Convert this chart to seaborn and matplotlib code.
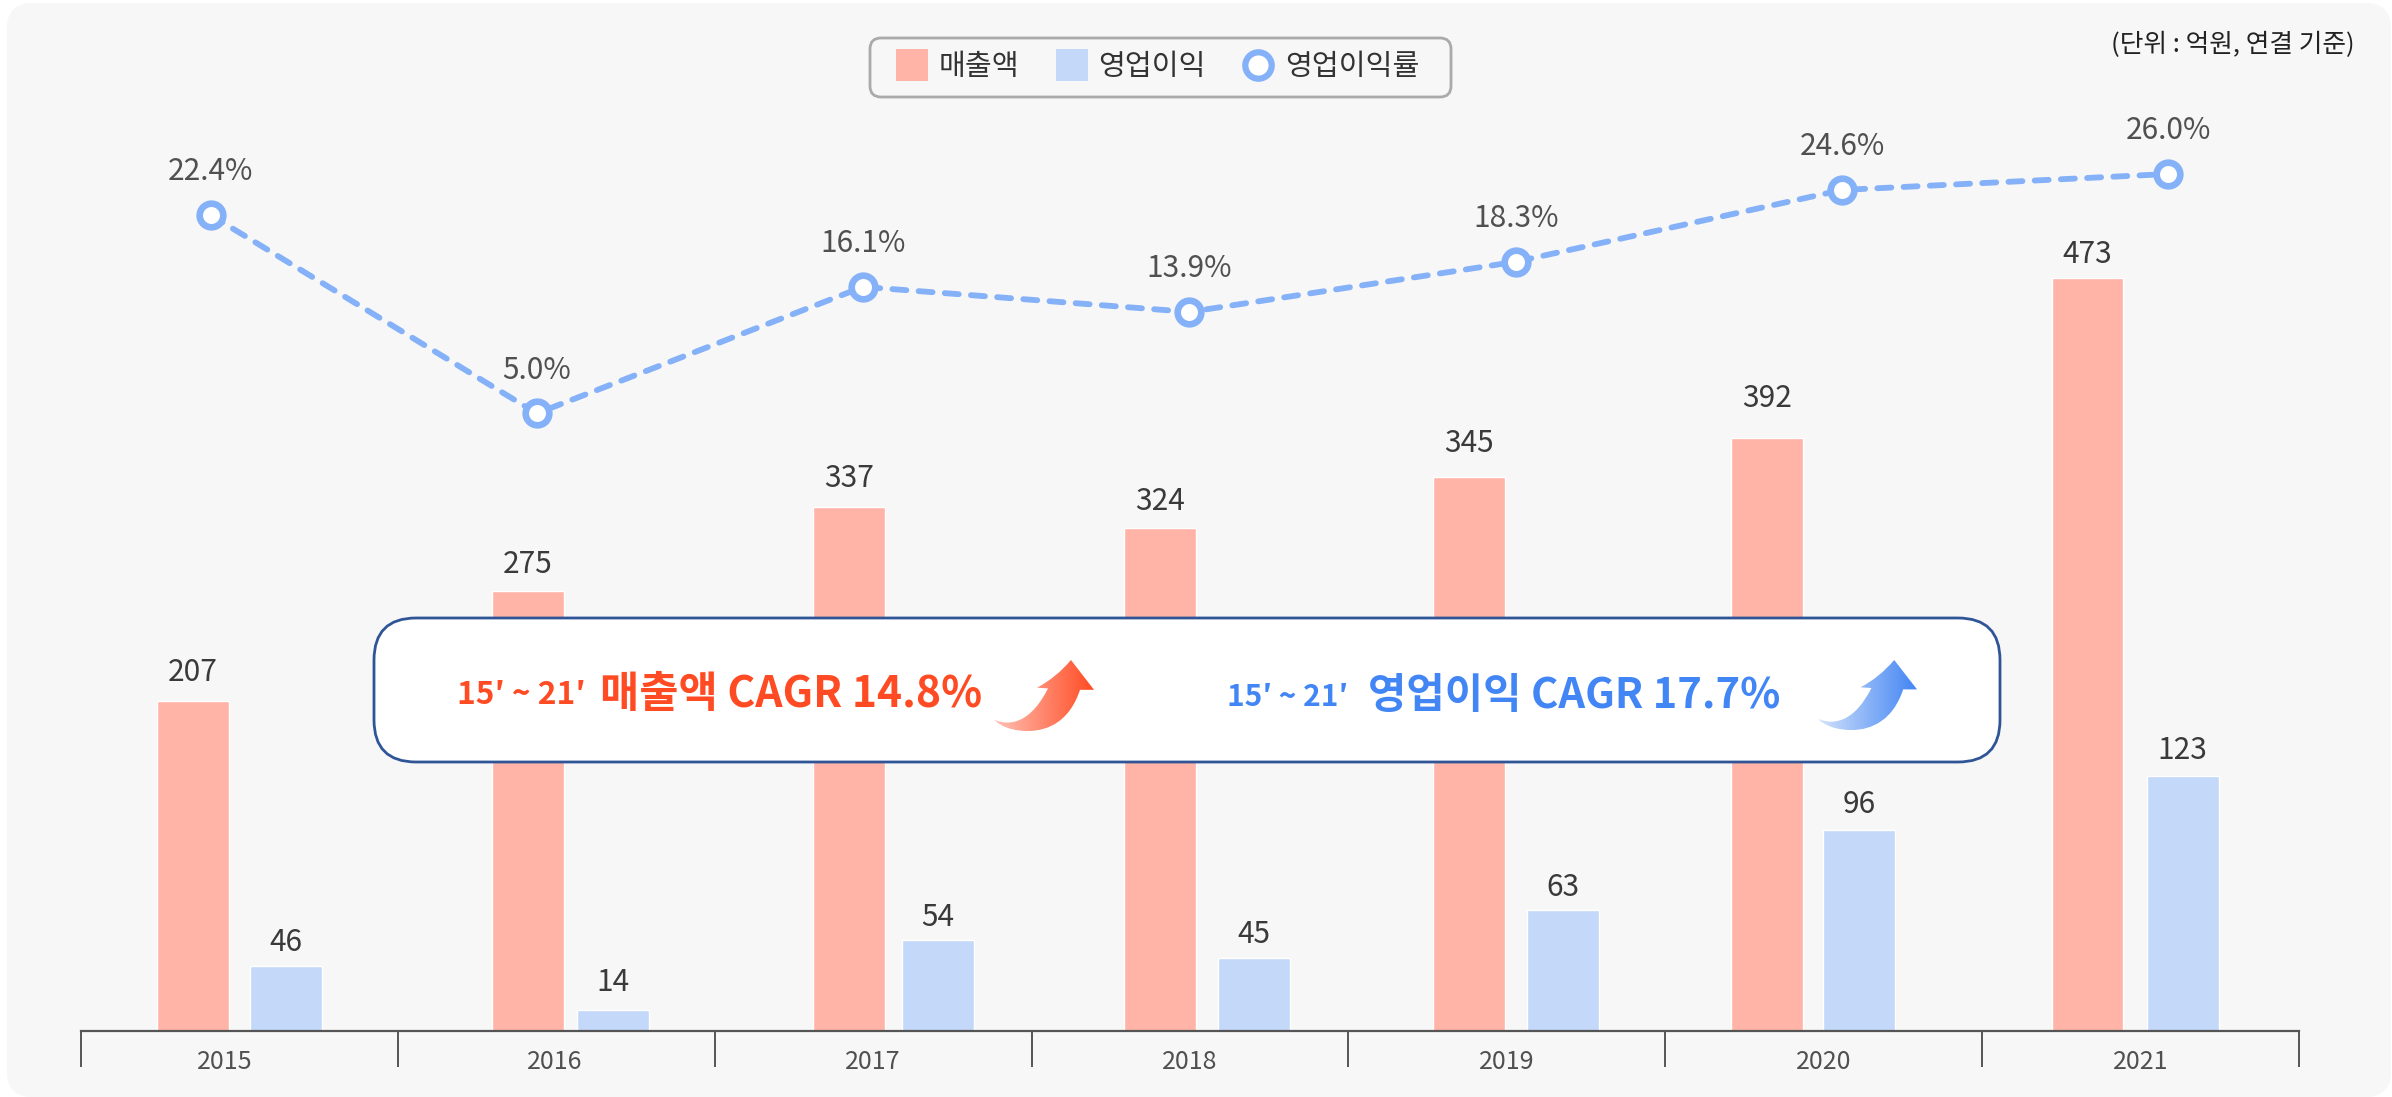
import numpy as np
import pandas as pd
import seaborn as sns
import matplotlib.pyplot as plt
from matplotlib.colors import LinearSegmentedColormap
from matplotlib.lines import Line2D
from matplotlib.patches import FancyBboxPatch, PathPatch
from matplotlib.path import Path

# --- Data ---
years = [2015, 2016, 2017, 2018, 2019, 2020, 2021]
sales_labels = [207, 275, 337, 324, 345, 392, 473]
profit_labels = [46, 14, 54, 45, 63, 96, 123]
margin = [22.4, 5.0, 16.1, 13.9, 18.3, 24.6, 26.0]
# bar heights as drawn in the picture (not quite the printed numbers)
sales_height = [207, 276, 329, 316, 348, 372, 473]
profit_height = [41, 13, 57, 46, 76, 126, 160]

SALES = "#FFB4A7"
PROFIT = "#C4D8F9"
LINE = "#85B1F8"
RED = "#FF4B23"
BLUE = "#4285F4"
KR = ["Noto Sans CJK KR", "DejaVu Sans"]

sns.set_theme(style="white")
plt.rcParams["font.family"] = KR

W, H = 2392, 1097
fig = plt.figure(figsize=(W / 100, H / 100), dpi=100, facecolor="white")

# --- Panel behind everything ---
bg = fig.add_axes([0, 0, 1, 1], zorder=0)
bg.set_xlim(0, W)
bg.set_ylim(H, 0)
bg.axis("off")
bg.add_patch(FancyBboxPatch((19, 15), 2360, 1070, boxstyle="round,pad=0,rounding_size=12",
                            mutation_aspect=1, fc="#F7F7F7", ec="#F7F7F7", lw=24 * 0.72))

# --- Bars ---
left, right, base, top = 81, 2299, 1031, 100
box = [left / W, (H - base) / H, (right - left) / W, (base - top) / H]
ax = fig.add_axes(box, zorder=1)
ax.patch.set_alpha(0)

df = pd.DataFrame({
    "year": [str(y) for y in years] * 2,
    "value": sales_height + profit_height,
    "kind": ["매출액"] * 7 + ["영업이익"] * 7,
})
sns.barplot(data=df, x="year", y="value", hue="kind", palette=[SALES, PROFIT],
            width=0.59, gap=0.23, saturation=1, legend=False, ax=ax, zorder=2)

# groups in the picture do not sit on a regular grid
sales_shift = [0, 0.058, 0.07, 0.053, 0.029, -0.031, -0.02]
profit_shift = [0, 0.031, 0.057, 0.053, 0.029, -0.037, -0.015]
# same for the gap between bar top and its number
sales_pad = [9.6, 8.5, 9.6, 7.4, 12.9, 17.3, 5.2]
profit_pad = [5.2, 8.5, 5.2, 5.2, 5.2, 7.4, 7.4]
for cont, shift, labels, pads in zip(ax.containers, [sales_shift, profit_shift],
                                     [sales_labels, profit_labels], [sales_pad, profit_pad]):
    for bar, dx in zip(cont, shift):
        bar.set_x(bar.get_x() + dx)
    texts = ax.bar_label(cont, labels=labels, padding=0, fontsize=21.5, color="#3A3A3A", fontweight="light")
    for t, p in zip(texts, pads):
        t.xyann = (0, p)

ax.set_xlim(-0.5, 6.5)
ax.set_ylim(0, (base - top) / 1.593)
ax.set_xlabel("")
ax.set_ylabel("")
ax.set_yticks([])
sns.despine(ax=ax, left=True)
ax.spines["bottom"].set_color("#555555")
ax.spines["bottom"].set_linewidth(1.6)
ax.set_xticks(np.arange(-0.5, 7, 1))
ax.set_xticklabels([])
ax.tick_params(axis="x", which="major", bottom=True, length=26, width=1.4, color="#555555")
ax.set_xticks([i + d for i, d in zip(range(7), [-0.045, -0.005, 0, 0, 0, 0, 0])], minor=True)
ax.set_xticklabels(years, minor=True, fontsize=18, color="#505050", fontweight="light")
ax.tick_params(axis="x", which="minor", bottom=True, length=0, pad=13)

# --- Margin line ---
ax2 = fig.add_axes(box, zorder=2)
ax2.patch.set_alpha(0)
sns.lineplot(x=years, y=margin, color=LINE, lw=4.2, linestyle=(0, (2.4, 2.1)), dash_capstyle="round",
             marker="o", ms=17, mew=4.8, mfc="white", mec=LINE, ax=ax2, errorbar=None)
year_px = 326.3
ax2.set_xlim(2015 - (210.5 - left) / year_px, 2015 + (right - 210.5) / year_px)
pct_px = 11.4
ax2.set_ylim(26 - (base - 174) / pct_px, 26 + (174 - top) / pct_px)
ax2.axis("off")
for x, y in zip(years, margin):
    ax2.annotate(f"{y:.1f}%", (x, y), xytext=(0, 31), textcoords="offset points", ha="center", va="center",
                 fontsize=21.5, color="#505050", fontweight="light")

# --- Overlay: legend, unit note, CAGR box ---
top_ax = fig.add_axes([0, 0, 1, 1], zorder=3)
top_ax.patch.set_alpha(0)
top_ax.set_xlim(0, W)
top_ax.set_ylim(H, 0)
top_ax.axis("off")

top_ax.add_patch(FancyBboxPatch((870, 38), 581, 59, boxstyle="round,pad=0,rounding_size=11",
                                fc="#F7F7F7", ec="#AAAAAA", lw=2))
handles = [
    Line2D([], [], ls="none", marker="s", ms=23, mew=0, color=SALES, label="매출액"),
    Line2D([], [], ls="none", marker="s", ms=23, mew=0, color=PROFIT, label="영업이익"),
    Line2D([], [], ls="none", marker="o", ms=19, mew=4.5, mfc="white", mec=LINE, label="영업이익률"),
]
top_ax.legend(handles=handles, ncol=3, loc="center", bbox_to_anchor=(1158 / W, 1 - 67 / H),
              bbox_transform=fig.transFigure, fontsize=21, frameon=False, handlelength=1.05,
              handletextpad=0.4, columnspacing=1.27, labelcolor="#333333")

top_ax.text(2354.5, 45, "(단위 : 억원, 연결 기준)", ha="right", va="center", fontsize=18.5, color="#222222")

top_ax.add_patch(FancyBboxPatch((374, 618), 1626, 144, boxstyle="round,pad=0,rounding_size=42",
                                fc="white", ec="#2F5597", lw=2))

top_ax.text(457, 695, "15′ ~ 21′", ha="left", va="center", fontsize=22.8, color=RED, fontweight="bold")
top_ax.text(600, 694, "매출액 CAGR 14.8%", ha="left", va="center", fontsize=30.7, color=RED, fontweight="bold")
top_ax.text(1227, 697, "15′ ~ 21′", ha="left", va="center", fontsize=21.5, color=BLUE, fontweight="bold")
top_ax.text(1368, 696, "영업이익 CAGR 17.7%", ha="left", va="center", fontsize=30, color=BLUE, fontweight="bold")

# curved arrow outline, in fractions of its own box
arrow_verts = [(0, 0.84), (0.18, 0.95), (0.38, 0.85), (0.54, 0.40), (0.43, 0.39), (0.62, 0.25), (0.77, 0),
               (1, 0.42), (0.86, 0.42), (0.76, 0.85), (0.55, 1.0), (0.34, 1.0), (0.2, 1.0), (0.08, 0.95), (0, 0.84)]
arrow_codes = [Path.MOVETO, Path.CURVE4, Path.CURVE4, Path.CURVE4, Path.LINETO, Path.CURVE3, Path.CURVE3,
               Path.LINETO, Path.LINETO, Path.CURVE4, Path.CURVE4, Path.CURVE4, Path.CURVE4, Path.CURVE4, Path.CURVE4]


def draw_arrow(x0, y0, w, h, pale, strong):
    verts = [(x0 + a * w, y0 + b * h) for a, b in arrow_verts]
    clip = PathPatch(Path(verts, arrow_codes), fc="none", ec="none", transform=top_ax.transData)
    top_ax.add_patch(clip)
    cmap = LinearSegmentedColormap.from_list("arrow", [pale, strong])
    img = top_ax.imshow(np.linspace(0, 1, 256).reshape(1, -1), cmap=cmap, aspect="auto",
                        extent=(x0, x0 + w, y0 + h, y0), zorder=4)
    img.set_clip_path(clip)


draw_arrow(994, 660, 100, 71, "#FFC2B6", RED)
draw_arrow(1818, 660, 99, 70, "#D3E2FB", BLUE)
top_ax.set_xlim(0, W)
top_ax.set_ylim(H, 0)

fig.savefig("out.png", dpi=100)
